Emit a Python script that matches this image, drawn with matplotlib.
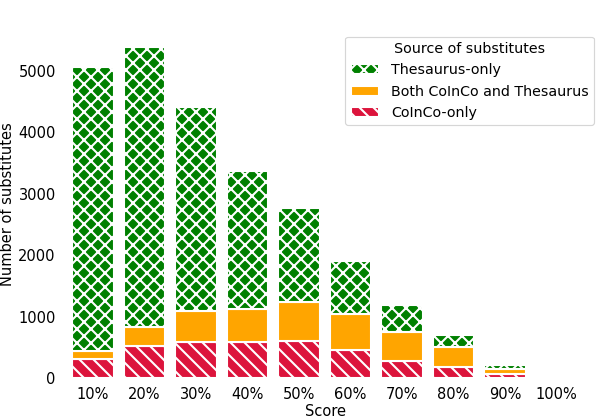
import matplotlib
matplotlib.use("Agg")
import matplotlib.pyplot as plt
import numpy as np

scores = ["10%", "20%", "30%", "40%", "50%", "60%", "70%", "80%", "90%", "100%"]
coinco_only = [315, 520, 585, 585, 600, 450, 275, 175, 60, 0]
both = [130, 315, 500, 535, 637, 587, 470, 325, 90, 0]
thesaurus_only = [4625, 4555, 3325, 2250, 1533, 868, 445, 200, 62, 0]

DPI = 84
k = 100 / DPI  # keep pixel sizes equal to a 100-dpi rendering

plt.rcParams["font.family"] = "DejaVu Sans"
plt.rcParams["font.size"] = 10.5 * k
plt.rcParams["hatch.linewidth"] = 1.5 * k

fig = plt.figure(figsize=(596 / DPI, 418 / DPI), dpi=DPI)
ax = fig.add_axes([62/596, 40/418, 528/596, 347.5/418])

x = np.arange(len(scores))
c = np.array(coinco_only)
b = np.array(both)
t = np.array(thesaurus_only)

lw = 1.5 * k
ax.bar(x, c, width=0.8, color="crimson", edgecolor="white", linewidth=lw,
       hatch="\\\\", label="CoInCo-only")
ax.bar(x, b, width=0.8, bottom=c, color="orange", edgecolor="white", linewidth=lw,
       label="Both CoInCo and Thesaurus")
ax.bar(x, t, width=0.8, bottom=c + b, color="green", edgecolor="white", linewidth=lw,
       hatch="xx", label="Thesaurus-only")

ax.set_xticks(x)
ax.set_xticklabels(scores)
ax.set_xlim(-0.6, 9.65)
ax.set_ylim(0, 5660)
ax.set_yticks([0, 1000, 2000, 3000, 4000, 5000])
ax.tick_params(axis="y", length=0, pad=4.5 * k)
ax.tick_params(axis="x", length=0, pad=6.5 * k)
for s in ax.spines.values():
    s.set_visible(False)
ax.set_xlabel("Score", labelpad=1.2 * k)
ax.set_ylabel("Number of substitutes", labelpad=2 * k)

h, l = ax.get_legend_handles_labels()
ax.legend(h[::-1], l[::-1], title="Source of substitutes", loc="upper right",
          bbox_to_anchor=(1.0215, 1.003), fontsize=10.25 * k, title_fontsize=10.25 * k)

fig.savefig("out.png", dpi=DPI)
